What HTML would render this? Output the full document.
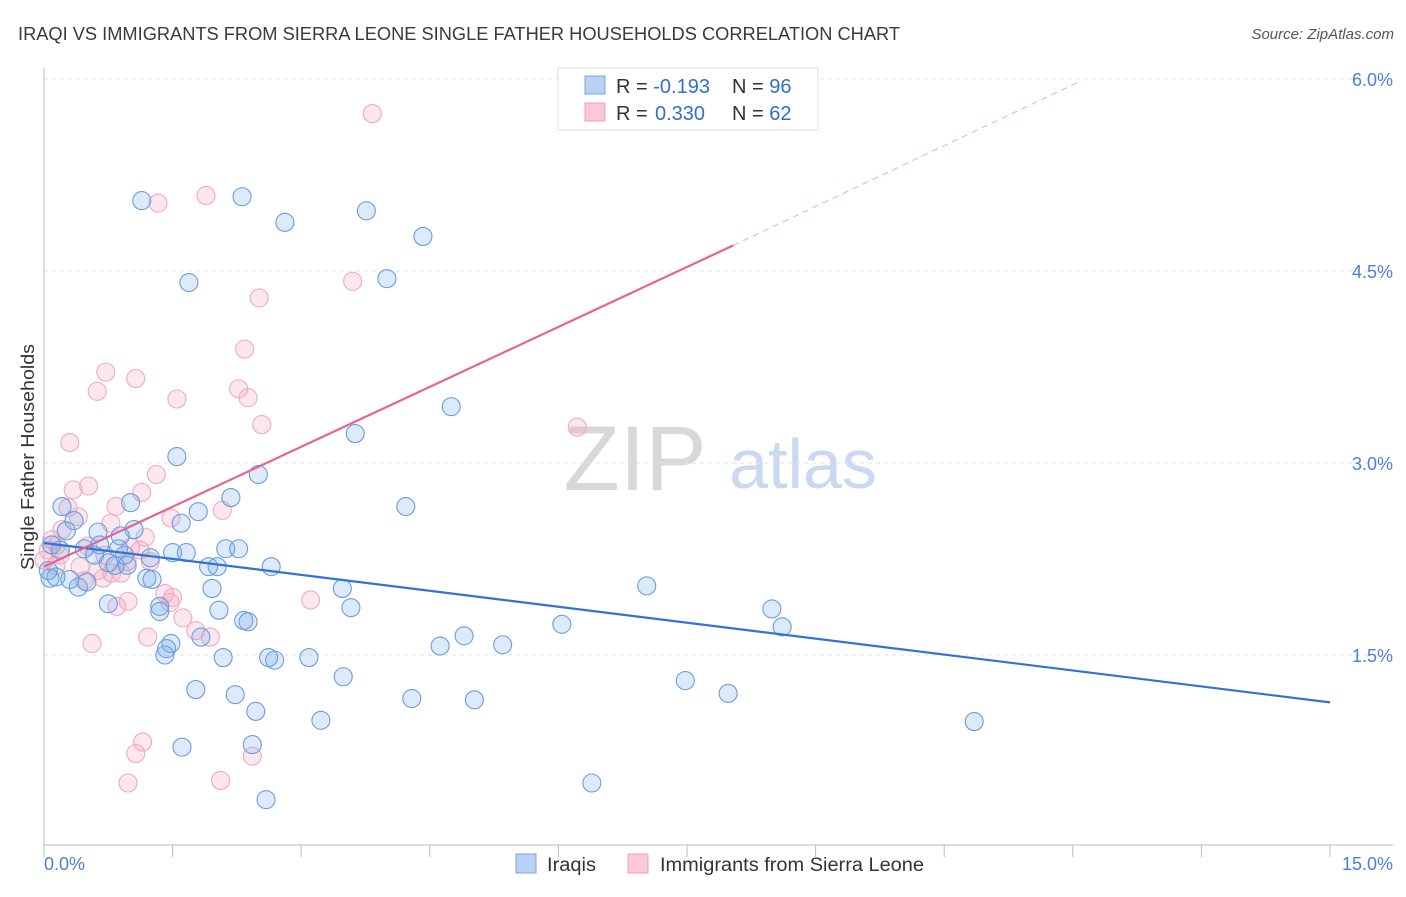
<!DOCTYPE html>
<html><head><meta charset="utf-8"><style>
html,body{margin:0;padding:0;background:#fff;}
body{width:1406px;height:892px;overflow:hidden;font-family:"Liberation Sans",sans-serif;}
svg text{font-family:"Liberation Sans",sans-serif;}
</style></head><body>
<svg id="chart" width="1406" height="892" viewBox="0 0 1406 892" xmlns="http://www.w3.org/2000/svg">
<text x="18" y="40" font-size="18" fill="#3a3a3a" textLength="882" lengthAdjust="spacingAndGlyphs">IRAQI VS IMMIGRANTS FROM SIERRA LEONE SINGLE FATHER HOUSEHOLDS CORRELATION CHART</text>
<text x="1394" y="39" font-size="15" fill="#555" font-style="italic" text-anchor="end">Source: ZipAtlas.com</text>
<text transform="translate(34,457) rotate(-90)" font-size="18" fill="#333" text-anchor="middle" textLength="226" lengthAdjust="spacingAndGlyphs">Single Father Households</text>
<g>
<text x="635" y="490" font-size="92" fill="#d8d8d8" text-anchor="middle" font-family="Liberation Serif,serif">ZIP</text>
<text x="803" y="488" font-size="70" fill="#c9daf0" text-anchor="middle">atlas</text>
</g>
<g id="grid"></g>
<g id="axes"></g>
<g id="pts"></g>
<g id="trends"></g>
<g>
<rect x="558" y="68" width="260" height="62" fill="#fff" stroke="#ddd"/>
<rect x="585" y="76" width="20" height="18" fill="#b9d2f3" stroke="#7aa6e3"/>
<rect x="585" y="103" width="20" height="18" fill="#f9c9d6" stroke="#f0a0b8"/>
<text x="616" y="93" font-size="20" fill="#333">R = <tspan fill="#2f6fd0">-0.193</tspan><tspan x="732">N = </tspan><tspan fill="#2f6fd0">96</tspan></text>
<text x="616" y="120" font-size="20" fill="#333">R = <tspan x="655" fill="#2f6fd0">0.330</tspan><tspan x="732">N = </tspan><tspan fill="#2f6fd0">62</tspan></text>
</g>
<g>
<rect x="516" y="854" width="20" height="19" fill="#b9d2f3" stroke="#7aa6e3"/>
<text x="547" y="871" font-size="19" fill="#333" textLength="49" lengthAdjust="spacingAndGlyphs">Iraqis</text>
<rect x="628" y="854" width="20" height="19" fill="#f9c9d6" stroke="#f0a0b8"/>
<text x="660" y="871" font-size="19" fill="#333" textLength="264" lengthAdjust="spacingAndGlyphs">Immigrants from Sierra Leone</text>
</g>
</svg>
<script>
const xTickVals=[0,1.5,3,4.5,6,7.5,9,10.5,12,13.5,15];
const yTickVals=[1.5,3.0,4.5,6.0];
const yTickLabels=["1.5%","3.0%","4.5%","6.0%"];
const xEndLabels=["0.0%","15.0%"];
const iraqiX=[1.14,2.31,2.81,3.76,4.42,1.69,4.00,4.75,3.63,1.55,2.50,2.18,4.22,1.80,1.60,1.01,0.21,0.35,0.63,1.05,0.89,0.26,0.09,0.47,0.65,0.87,1.24,1.50,1.66,2.12,2.27,1.92,2.02,2.65,0.75,0.97,0.07,0.30,0.50,0.40,1.20,1.26,3.48,1.96,7.03,1.35,0.75,1.35,2.04,3.58,8.49,2.33,2.38,6.04,8.61,4.90,1.83,1.48,1.43,4.62,5.35,2.09,1.41,2.62,2.69,3.09,3.49,7.48,1.77,2.23,4.29,5.02,7.98,2.47,3.23,10.85,1.61,2.43,2.59,6.39,0.14,0.05,0.19,0.59,0.94,0.83];
const iraqiY=[5.05,5.08,4.88,4.97,4.77,4.41,4.44,3.44,3.23,3.05,2.91,2.73,2.66,2.62,2.53,2.69,2.66,2.55,2.46,2.48,2.43,2.47,2.36,2.33,2.36,2.33,2.26,2.30,2.30,2.33,2.33,2.19,2.19,2.19,2.22,2.20,2.10,2.09,2.07,2.03,2.10,2.09,2.02,2.02,2.04,1.88,1.90,1.84,1.85,1.87,1.86,1.77,1.76,1.74,1.72,1.65,1.64,1.59,1.55,1.57,1.58,1.48,1.50,1.48,1.46,1.48,1.33,1.30,1.23,1.19,1.16,1.15,1.20,1.06,0.99,0.98,0.78,0.80,0.37,0.50,2.11,2.16,2.32,2.28,2.28,2.20];
const sierraX=[3.83,1.33,1.89,3.60,2.51,2.34,0.72,1.07,0.62,1.55,2.27,2.38,2.54,0.30,6.22,1.31,0.52,1.14,0.34,0.28,0.40,0.78,0.84,2.08,1.48,1.18,0.21,0.09,0.15,0.19,0.51,1.01,0.71,0.97,0.14,0.42,0.79,0.90,0.69,0.47,3.11,1.41,1.50,0.98,0.85,1.47,1.62,1.77,1.94,1.21,0.56,1.15,1.07,2.43,2.06,0.98,0.00,0.05,0.63,1.12,1.24];
const sierraY=[5.73,5.03,5.09,4.42,4.29,3.89,3.71,3.66,3.56,3.50,3.58,3.51,3.30,3.16,3.28,2.91,2.82,2.77,2.79,2.65,2.58,2.53,2.66,2.63,2.57,2.42,2.48,2.40,2.36,2.28,2.35,2.34,2.28,2.23,2.20,2.19,2.14,2.14,2.10,2.08,1.93,1.98,1.95,1.92,1.88,1.91,1.79,1.69,1.64,1.64,1.59,0.82,0.73,0.71,0.52,0.50,2.24,2.32,2.16,2.32,2.23];
const iraqiTrend=[2.375,1.13];
const sierraTrend=[2.19,4.70,5.98];
const sierraTrendX=[0,8.04,12.08];

const NS="http://www.w3.org/2000/svg";
const X0=44,X1=1330,YB=847,YT=79;
function sx(v){return X0+(v/15)*(X1-X0);}
function sy(v){return YB-(v/6)*(YB-YT);}
function mk(tag,attrs,parent){const e=document.createElementNS(NS,tag);for(const k in attrs)e.setAttribute(k,attrs[k]);parent.appendChild(e);return e;}

const grid=document.getElementById('grid');
yTickVals.forEach((v,i)=>{
  const l=mk('line',{x1:44,x2:1393,y1:sy(v),y2:sy(v),stroke:'#e2e2e2','stroke-dasharray':'4,4'},grid);
  
  
  const t=mk('text',{x:1393,y:sy(v)+7,'font-size':18,fill:'#4a80d6','text-anchor':'end'},grid);
  t.textContent=yTickLabels[i];
  
  
});
const axes=document.getElementById('axes');
const ya=mk('line',{x1:44,x2:44,y1:68,y2:845,stroke:'#bbb'},axes);


const xa=mk('line',{x1:44,x2:1393,y1:845,y2:845,stroke:'#bbb'},axes);


xTickVals.forEach(v=>{
  const t=mk('line',{x1:sx(v),x2:sx(v),y1:845,y2:857,stroke:'#bbb'},axes);
  
  
});
const xl0=mk('text',{x:44,y:870,'font-size':18,fill:'#4a80d6'},axes);
xl0.textContent=xEndLabels[0];


const xl1=mk('text',{x:1393,y:870,'font-size':18,fill:'#4a80d6','text-anchor':'end'},axes);
xl1.textContent=xEndLabels[1];



const pts=document.getElementById('pts');
sierraX.forEach((v,i)=>{
  const c=mk('circle',{cx:sx(v),cy:sy(sierraY[i]),r:9,fill:'rgba(244,160,188,0.25)',stroke:'#f2a9c0','stroke-width':1.1},pts);
  
  
});
iraqiX.forEach((v,i)=>{
  const c=mk('circle',{cx:sx(v),cy:sy(iraqiY[i]),r:9,fill:'rgba(120,170,232,0.25)',stroke:'#6a9ce0','stroke-width':1.1},pts);
  
  
});
const tr=document.getElementById('trends');
const bl=mk('line',{x1:sx(0),y1:sy(iraqiTrend[0]),x2:sx(15),y2:sy(iraqiTrend[1]),stroke:'#2f73d8','stroke-width':2.2},tr);


const pl=mk('line',{x1:sx(sierraTrendX[0]),y1:sy(sierraTrend[0]),x2:sx(sierraTrendX[1]),y2:sy(sierraTrend[1]),stroke:'#e8648f','stroke-width':2.2},tr);


const pd=mk('line',{x1:sx(sierraTrendX[1]),y1:sy(sierraTrend[1]),x2:sx(sierraTrendX[2]),y2:sy(sierraTrend[2]),stroke:'#eeaac0','stroke-width':1,'stroke-dasharray':'6,5'},tr);


</script>
</body></html>
